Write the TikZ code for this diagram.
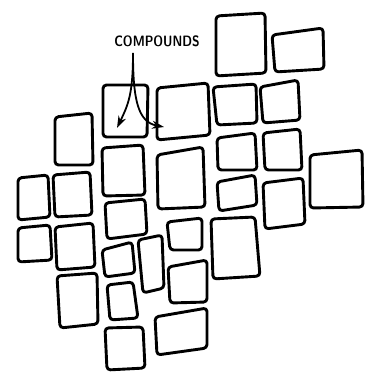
\documentclass[tikz,border=0pt]{standalone}
\usetikzlibrary{arrows.meta}
\tikzset{
  box/.style={draw=black, line width=2.9pt, rounded corners=3.5pt, line join=round},
  arr/.style={draw=black, line width=1.8pt, -{Stealth[length=12pt,width=8pt]}},
  lab/.style={font=\sffamily\bfseries\fontsize{15}{15}\selectfont, inner sep=0pt}
}
\newcommand{\bx}[4]{\draw[box] #1 -- #2 -- #3 -- #4 -- cycle;}
\begin{document}
\begin{tikzpicture}[x=1pt,y=-1pt]
\useasboundingbox (0,0) rectangle (370,372);
% boxes
\bx{(216,16)}{(265,13)}{(266,73)}{(216,76)}      % A
\bx{(272,35)}{(323,28)}{(324,69)}{(275,72)}      % B
\bx{(213,87)}{(256,84)}{(257,123)}{(217,125)}    % C
\bx{(260,87)}{(298,80)}{(300,120)}{(263,123)}    % D
\bx{(217,138)}{(255,133)}{(257,170)}{(218,170)}  % E
\bx{(263,133)}{(300,129)}{(302,170)}{(265,170)}  % F
\bx{(310,155)}{(362,150)}{(363,207)}{(310,208)}  % G
\bx{(217,182)}{(255,175)}{(257,205)}{(219,211)}  % H
\bx{(263,183)}{(303,178)}{(305,224)}{(265,229)}  % I
\bx{(211,219)}{(255,217)}{(260,276)}{(213,279)}  % J
\bx{(103,85)}{(148,85)}{(147,137)}{(103,137)}    % K
\bx{(157,88)}{(208,83)}{(210,135)}{(157,140)}    % L
\bx{(102,148)}{(143,145)}{(145,195)}{(103,196)}  % M
\bx{(157,155)}{(203,147)}{(205,207)}{(158,209)}  % N
\bx{(55,117)}{(92,113)}{(93,165)}{(55,165)}      % O
\bx{(18,178)}{(48,175)}{(50,217)}{(18,220)}      % P
\bx{(53,175)}{(90,172)}{(92,215)}{(55,217)}      % Q
\bx{(18,228)}{(50,225)}{(52,260)}{(18,262)}      % R
\bx{(55,227)}{(93,223)}{(95,267)}{(57,270)}      % S
\bx{(105,203)}{(145,199)}{(147,234)}{(107,239)}  % T
\bx{(57,276)}{(97,273)}{(98,324)}{(60,328)}      % U
\bx{(102,250)}{(132,242)}{(135,273)}{(105,277)}  % V
\bx{(138,240)}{(162,235)}{(164,288)}{(143,293)}  % W
\bx{(107,285)}{(133,282)}{(138,318)}{(110,320)}  % X
\bx{(105,328)}{(143,327)}{(145,368)}{(107,370)}  % Y
\bx{(155,317)}{(207,308)}{(207,348)}{(157,355)}  % Z
\bx{(168,267)}{(207,260)}{(207,302)}{(170,303)}  % AA
\bx{(167,222)}{(202,218)}{(202,250)}{(170,250)}  % BB
% label and arrows
\node[lab] (lbl) at (157,41) {\scalebox{0.82}[1]{COMPOUNDS}};
\coordinate (stem) at (133,53);
\coordinate (tipL) at (117,128);
\coordinate (tipR) at (164,127);
\draw[arr] (stem) .. controls (133,95) and (128,105) .. (tipL);
\draw[arr] (stem) .. controls (133,100) and (138,122) .. (tipR);
\end{tikzpicture}
\end{document}
